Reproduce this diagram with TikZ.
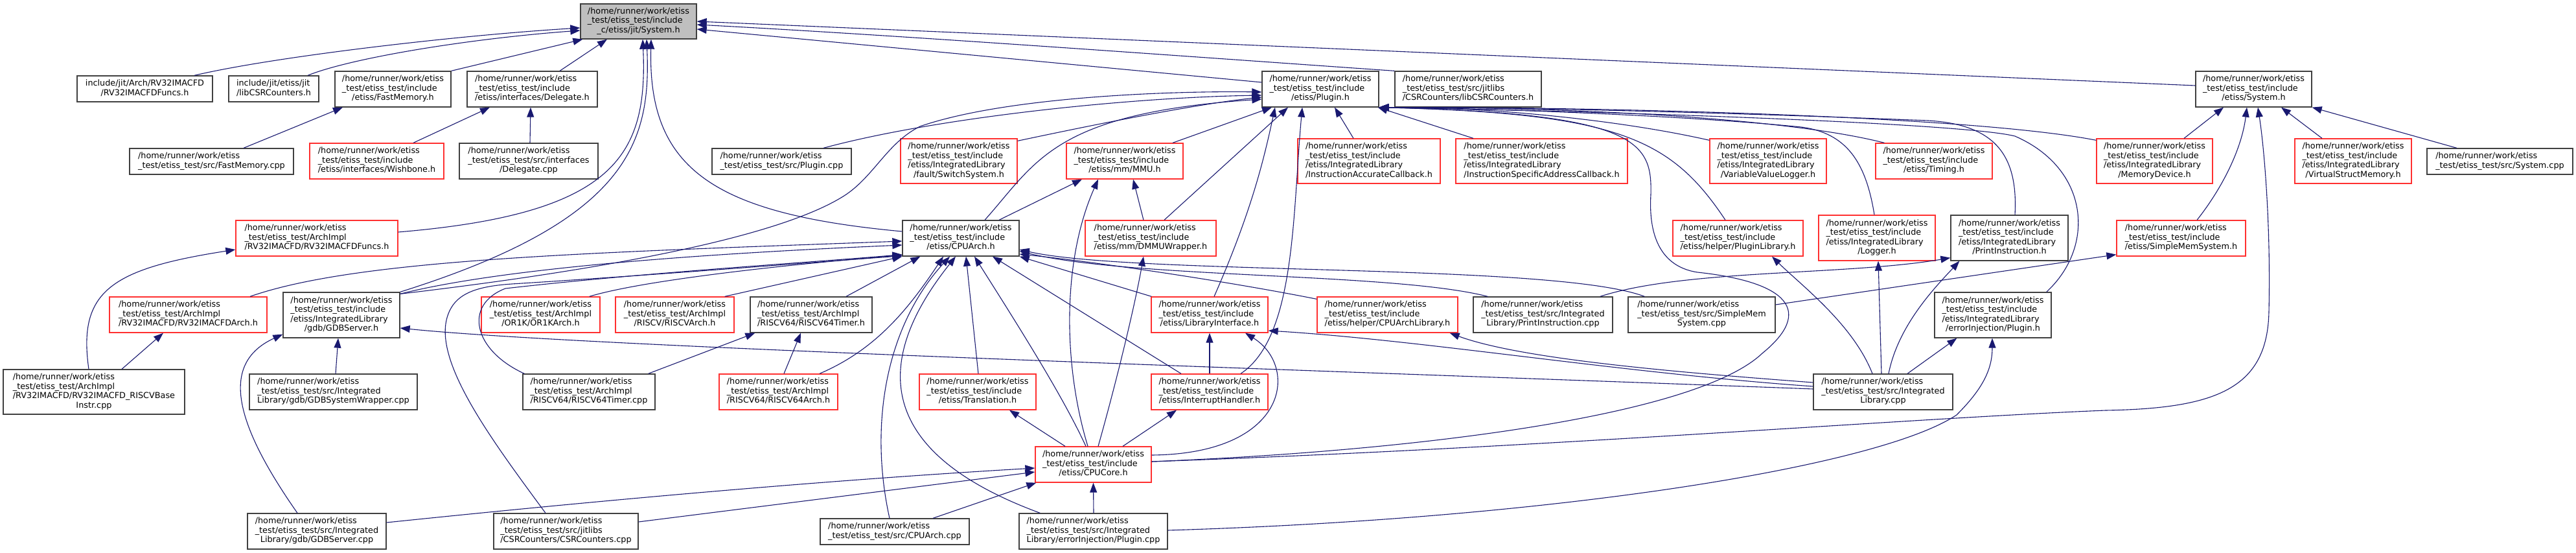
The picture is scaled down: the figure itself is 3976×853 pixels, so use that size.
\documentclass[tikz,border=0pt]{standalone}
\usepackage{fontspec}
\setmainfont{DejaVu Sans}
\usetikzlibrary{arrows.meta,calc}
\definecolor{edgeblue}{HTML}{191970}
\definecolor{rootgray}{HTML}{BFBFBF}
\definecolor{nodeborder}{HTML}{404040}
\definecolor{truncred}{HTML}{FF3030}
\newcommand\lbl[2]{\begin{tabular}{@{}l@{}}#1\\\multicolumn{1}{@{}c@{}}{#2}\end{tabular}}
\newcommand\pH{/home/runner/work/etiss\\\_test/etiss\_test/include}
\newcommand\pA{/home/runner/work/etiss\\\_test/etiss\_test/ArchImpl}
\newcommand\pS{/home/runner/work/etiss\\\_test/etiss\_test/src/Integrated}
\newcommand\pIL{\pH\\/etiss/IntegratedLibrary}
\newcommand\mknode[7]{\node[#6, minimum width={(#3-#2)*1pt}, minimum height={(#5-#4)*1pt}] (#1) at ({(#2+#3)/2},{(#4+#5)/2}) {#7};}
\tikzset{
  nbox/.style={draw=nodeborder, line width=1.3pt, fill=white, inner sep=0pt, font=\fontsize{12.8pt}{14.5pt}\selectfont},
  rbox/.style={nbox, draw=truncred},
  gbox/.style={nbox, fill=rootgray},
  edge/.style={draw=edgeblue, line width=1.1pt, -{Triangle[length=15pt,width=11pt]}}
}
\begin{document}
\begin{tikzpicture}[x=1pt,y=-1pt]
\fill[white] (0,0) rectangle (3976,853);
\useasboundingbox (0,0) rectangle (3976,853);
% nodes
\mknode{root}{896}{1075}{6}{60}{gbox}{\lbl{\pH}{\_c/etiss/jit/System.h}}
\mknode{jitArch}{119}{328}{117}{157}{nbox}{\lbl{include/jit/Arch/RV32IMACFD}{/RV32IMACFDFuncs.h}}
\mknode{jitCSR}{353}{492}{117}{157}{nbox}{\lbl{include/jit/etiss/jit}{/libCSRCounters.h}}
\mknode{fastmemh}{517}{696}{110}{165}{nbox}{\lbl{\pH}{/etiss/FastMemory.h}}
\mknode{delegateh}{721}{922}{110}{165}{nbox}{\lbl{\pH}{/etiss/interfaces/Delegate.h}}
\mknode{pluginh}{1948}{2128}{110}{165}{nbox}{\lbl{\pH}{/etiss/Plugin.h}}
\mknode{srccsrh}{2153}{2379}{110}{165}{nbox}{\lbl{/home/runner/work/etiss\\\_test/etiss\_test/src/jitlibs}{/CSRCounters/libCSRCounters.h}}
\mknode{systemh}{3389}{3568}{110}{165}{nbox}{\lbl{\pH}{/etiss/System.h}}
\mknode{fastmemcpp}{200}{453}{229}{269}{nbox}{\lbl{/home/runner/work/etiss}{\_test/etiss\_test/src/FastMemory.cpp}}
\mknode{wishbone}{478}{685}{221}{276}{rbox}{\lbl{\pH}{/etiss/interfaces/Wishbone.h}}
\mknode{delegatecpp}{709}{923}{221}{276}{nbox}{\lbl{/home/runner/work/etiss\\\_test/etiss\_test/src/interfaces}{/Delegate.cpp}}
\mknode{plugincpp}{1099}{1314}{229}{269}{nbox}{\lbl{/home/runner/work/etiss}{\_test/etiss\_test/src/Plugin.cpp}}
\mknode{switchsys}{1390}{1570}{214}{283}{rbox}{\lbl{\pIL}{/fault/SwitchSystem.h}}
\mknode{mmuh}{1646}{1826}{221}{276}{rbox}{\lbl{\pH}{/etiss/mm/MMU.h}}
\mknode{iac}{2003}{2223}{214}{283}{rbox}{\lbl{\pIL}{/InstructionAccurateCallback.h}}
\mknode{isac}{2247}{2512}{214}{283}{rbox}{\lbl{\pIL}{/InstructionSpecificAddressCallback.h}}
\mknode{vvl}{2639}{2819}{214}{283}{rbox}{\lbl{\pIL}{/VariableValueLogger.h}}
\mknode{timing}{2895}{3075}{221}{276}{rbox}{\lbl{\pH}{/etiss/Timing.h}}
\mknode{memdev}{3236}{3415}{214}{283}{rbox}{\lbl{\pIL}{/MemoryDevice.h}}
\mknode{vsm}{3542}{3722}{214}{283}{rbox}{\lbl{\pIL}{/VirtualStructMemory.h}}
\mknode{systemcpp}{3746}{3971}{229}{269}{nbox}{\lbl{/home/runner/work/etiss}{\_test/etiss\_test/src/System.cpp}}
\mknode{archfuncs}{364}{614}{340}{395}{rbox}{\lbl{\pA}{/RV32IMACFD/RV32IMACFDFuncs.h}}
\mknode{cpuarchh}{1393}{1573}{340}{395}{nbox}{\lbl{\pH}{/etiss/CPUArch.h}}
\mknode{dmmu}{1675}{1877}{340}{395}{rbox}{\lbl{\pH}{/etiss/mm/DMMUWrapper.h}}
\mknode{pluginlib}{2582}{2783}{340}{395}{rbox}{\lbl{\pH}{/etiss/helper/PluginLibrary.h}}
\mknode{logger}{2807}{2987}{332}{402}{rbox}{\lbl{\pIL}{/Logger.h}}
\mknode{printinsth}{3011}{3192}{332}{402}{nbox}{\lbl{\pIL}{/PrintInstruction.h}}
\mknode{simplememh}{3267}{3466}{340}{395}{rbox}{\lbl{\pH}{/etiss/SimpleMemSystem.h}}
\mknode{rv32arch}{169}{412}{458}{513}{rbox}{\lbl{\pA}{/RV32IMACFD/RV32IMACFDArch.h}}
\mknode{gdbserverh}{437}{617}{451}{521}{nbox}{\lbl{\pIL}{/gdb/GDBServer.h}}
\mknode{or1k}{743}{926}{458}{513}{rbox}{\lbl{\pA}{/OR1K/OR1KArch.h}}
\mknode{riscv}{950}{1133}{458}{513}{rbox}{\lbl{\pA}{/RISCV/RISCVArch.h}}
\mknode{rv64timerh}{1158}{1346}{458}{513}{nbox}{\lbl{\pA}{/RISCV64/RISCV64Timer.h}}
\mknode{libif}{1777}{1957}{458}{513}{rbox}{\lbl{\pH}{/etiss/LibraryInterface.h}}
\mknode{cpuarchlib}{2033}{2250}{458}{513}{rbox}{\lbl{\pH}{/etiss/helper/CPUArchLibrary.h}}
\mknode{printinstcpp}{2274}{2489}{458}{513}{nbox}{\lbl{\pS}{Library/PrintInstruction.cpp}}
\mknode{simplememcpp}{2513}{2740}{458}{513}{nbox}{\lbl{/home/runner/work/etiss\\\_test/etiss\_test/src/SimpleMem}{System.cpp}}
\mknode{einjh}{2986}{3166}{451}{521}{nbox}{\lbl{\pIL}{/errorInjection/Plugin.h}}
\mknode{baseinstr}{5}{285}{570}{639}{nbox}{\lbl{\pA\\/RV32IMACFD/RV32IMACFD\_RISCVBase}{Instr.cpp}}
\mknode{gdbwrap}{385}{644}{577}{632}{nbox}{\lbl{\pS}{Library/gdb/GDBSystemWrapper.cpp}}
\mknode{rv64timercpp}{807}{1011}{577}{632}{nbox}{\lbl{\pA}{/RISCV64/RISCV64Timer.cpp}}
\mknode{rv64arch}{1110}{1293}{577}{632}{rbox}{\lbl{\pA}{/RISCV64/RISCV64Arch.h}}
\mknode{translation}{1419}{1599}{577}{632}{rbox}{\lbl{\pH}{/etiss/Translation.h}}
\mknode{interrupt}{1777}{1957}{577}{632}{rbox}{\lbl{\pH}{/etiss/InterruptHandler.h}}
\mknode{intlibcpp}{2799}{3014}{577}{632}{nbox}{\lbl{\pS}{Library.cpp}}
\mknode{cpucore}{1598}{1777}{689}{744}{rbox}{\lbl{\pH}{/etiss/CPUCore.h}}
\mknode{gdbservercpp}{382}{596}{792}{847}{nbox}{\lbl{\pS}{Library/gdb/GDBServer.cpp}}
\mknode{csrcpp}{762}{985}{792}{847}{nbox}{\lbl{/home/runner/work/etiss\\\_test/etiss\_test/src/jitlibs}{/CSRCounters/CSRCounters.cpp}}
\mknode{cpuarchcpp}{1266}{1496}{800}{840}{nbox}{\lbl{/home/runner/work/etiss}{\_test/etiss\_test/src/CPUArch.cpp}}
\mknode{einjcpp}{1573}{1802}{792}{847}{nbox}{\lbl{\pS}{Library/errorInjection/Plugin.cpp}}
% edges into root
\draw[edge] ($(jitArch.north)+(76.5,0)$) .. controls (420,88) and (700,55) .. ($(root.west)+(0,10)$);
\draw[edge] ($(jitCSR.north)+(52.5,0)$) .. controls (540,90) and (720,60) .. ($(root.west)+(0,14)$);
\draw[edge] (fastmemh.north east) -- ($(root.south west)+(4,0)$);
\draw[edge] ($(delegateh.north)+(42.5,0)$) -- ($(root.south)+(-48.5,0)$);
\draw[edge] ($(pluginh.west)+(0,-10.5)$) -- ($(root.east)+(0,12)$);
\draw[edge] (srccsrh.north west) .. controls (1900,92) and (1400,55) .. ($(root.east)+(0,5)$);
\draw[edge] ($(systemh.west)+(0,-5.5)$) -- (root.east);
\draw[edge] ($(archfuncs.east)+(0,-9.5)$) .. controls (950,330) and (1000,240) .. ($(root.south)+(6.5,0)$);
\draw[edge] (gdbserverh.north east) .. controls (970,340) and (1005,220) .. ($(root.south)+(12.5,0)$);
\draw[edge] ($(cpuarchh.west)+(0,-10.5)$) .. controls (1100,330) and (1000,260) .. ($(root.south)+(19.5,0)$);
% small top-left groups
\draw[edge] ($(wishbone.north)+(56.5,0)$) -- ($(delegateh.south)+(-65.5,0)$);
\draw[edge] ($(delegatecpp.north)+(2,0)$) -- ($(delegateh.south)+(-2.5,0)$);
\draw[edge] ($(fastmemcpp.north)+(49.5,0)$) -- ($(fastmemh.south)+(-77.5,0)$);
% into Plugin.h
\draw[edge] ($(plugincpp.north)+(64.5,0)$) .. controls (1450,180) and (1750,150) .. ($(pluginh.west)+(0,9.5)$);
\draw[edge] ($(gdbserverh.north east)+(0,3)$) .. controls (900,420) and (1200,370) .. (1306,300) .. controls (1350,270) and (1370,220) .. (1420,195) .. controls (1550,150) and (1800,140) .. ($(pluginh.west)+(0,4.5)$);
\draw[edge] ($(switchsys.north east)+(0,4)$) .. controls (1700,190) and (1850,160) .. ($(pluginh.west)+(0,12.5)$);
\draw[edge] ($(cpuarchh.north)+(37,0)$) .. controls (1600,250) and (1625,175) .. ($(pluginh.west)+(0,15.5)$);
\draw[edge] ($(mmuh.north)+(74,0)$) -- ($(pluginh.south)+(-75,0)$);
\draw[edge] ($(dmmu.north)+(21,0)$) -- ($(pluginh.south)+(-50,0)$);
\draw[edge] ($(iac.north)+(-24,0)$) -- ($(pluginh.south)+(22,0)$);
\draw[edge] ($(isac.north)+(-105.5,0)$) -- ($(pluginh.south east)+(-2,0)$);
\draw[edge] ($(vvl.north west)+(0,3)$) .. controls (2500,185) and (2300,165) .. (pluginh.south east);
\draw[edge] ($(timing.north west)+(14,0)$) .. controls (2750,180) and (2400,165) .. (pluginh.south east);
\draw[edge] ($(memdev.north west)+(0,3)$) .. controls (3050,180) and (2500,165) .. (pluginh.south east);
\draw[edge] ($(printinsth.north)+(8.5,0)$) .. controls (3115,240) and (3080,192) .. (2976,186) .. controls (2700,175) and (2350,165) .. (pluginh.south east);
\draw[edge] ($(einjh.north east)+(-8,0)$) .. controls (3235,380) and (3225,260) .. (3110,210) .. controls (3030,190) and (2500,172) .. (pluginh.south east);
\draw[edge] ($(pluginlib.north)+(-19.5,0)$) .. controls (2580,215) and (2500,175) .. (pluginh.south east);
\draw[edge] ($(logger.north)+(-4,0)$) .. controls (2880,250) and (2850,205) .. (2780,196) .. controls (2600,178) and (2300,167) .. (pluginh.south east);
\draw[edge] ($(cpucore.east)+(0,-4.5)$) .. controls (2200,695) and (2620,640) .. (2720,545) .. controls (2800,480) and (2760,435) .. (2620,420) .. controls (2555,410) and (2545,350) .. (2548,300) .. controls (2550,220) and (2530,175) .. (pluginh.south east);
\draw[edge] ($(interrupt.north)+(48,0)$) .. controls (2000,520) and (1995,330) .. ($(pluginh.south)+(-28,0)$);
\draw[edge] ($(libif.north)+(7,0)$) .. controls (1930,330) and (1950,250) .. ($(pluginh.south)+(-70,0)$);
% MMU / DMMU
\draw[edge] ($(cpuarchh.north)+(59,0)$) -- ($(mmuh.south)+(-66,0)$);
\draw[edge] ($(cpucore.north)+(-8.5,0)$) .. controls (1640,560) and (1640,400) .. ($(mmuh.south)+(-41,0)$);
\draw[edge] ($(dmmu.north)+(-11,0)$) -- ($(mmuh.south)+(13,0)$);
% System.h
\draw[edge] ($(cpucore.east)+(0,-4.5)$) .. controls (2400,690) and (2950,645) .. (3250,633) .. controls (3420,630) and (3500,600) .. (3502,480) .. controls (3505,350) and (3495,230) .. ($(systemh.south)+(6.5,0)$);
\draw[edge] ($(simplememh.north)+(24.5,0)$) .. controls (3430,290) and (3460,230) .. ($(systemh.south)+(-10.5,0)$);
\draw[edge] ($(memdev.north)+(45.5,0)$) -- ($(systemh.south)+(-46.5,0)$);
\draw[edge] ($(vsm.north)+(-48,0)$) -- ($(systemh.south)+(42.5,0)$);
\draw[edge] ($(systemcpp.north)+(-66.5,0)$) -- (systemh.south east);
% CPUCore.h out
\draw[edge] ($(cpucore.east)+(0,-14.5)$) .. controls (1990,700) and (2005,565) .. ($(libif.south)+(55,0)$);
\draw[edge] ($(cpucore.north)+(-43.5,0)$) -- ($(translation.south)+(49,0)$);
\draw[edge] ($(cpucore.north)+(-11.5,0)$) .. controls (1640,610) and (1570,500) .. ($(cpuarchh.south)+(21,0)$);
\draw[edge] ($(cpucore.north)+(7.5,0)$) .. controls (1720,600) and (1750,480) .. ($(dmmu.south)+(-11,0)$);
\draw[edge] ($(cpucore.north)+(45.5,0)$) -- ($(interrupt.south)+(-51,0)$);
% Translation / InterruptHandler / LibraryInterface
\draw[edge] ($(translation.north)+(1,0)$) -- ($(cpuarchh.south)+(8,0)$);
\draw[edge] ($(interrupt.north)+(-44,0)$) -- ($(cpuarchh.south)+(49,0)$);
\draw[edge] (interrupt.north) -- (libif.south);
\draw[edge] ($(libif.north west)+(1,0)$) -- (cpuarchh.south east);
% IntegratedLibrary.cpp
\draw[edge] ($(intlibcpp.west)+(0,-8.5)$) .. controls (2500,575) and (2200,525) .. ($(libif.east)+(0,24.5)$);
\draw[edge] ($(intlibcpp.west)+(0,-14.5)$) .. controls (2600,575) and (2350,555) .. ($(cpuarchlib.south east)+(-13,0)$);
\draw[edge] ($(intlibcpp.west)+(0,-4.5)$) .. controls (2000,570) and (900,535) .. ($(gdbserverh.east)+(0,20)$);
\draw[edge] ($(intlibcpp.north)+(-16.5,0)$) .. controls (2860,500) and (2780,440) .. ($(pluginlib.south)+(52.5,0)$);
\draw[edge] ($(intlibcpp.north)+(-2.5,0)$) -- ($(logger.south)+(2,0)$);
\draw[edge] ($(intlibcpp.north)+(8.5,0)$) .. controls (2930,500) and (2990,440) .. ($(printinsth.south west)+(14,0)$);
\draw[edge] ($(intlibcpp.north)+(37.5,0)$) -- ($(einjh.south west)+(35,0)$);
% SimpleMem / PrintInstruction / CPUArchLibrary
\draw[edge] ($(simplememcpp.east)+(0,-15.5)$) -- ($(simplememh.south west)+(0,-3)$);
\draw[edge] ($(printinstcpp.north east)+(-20,0)$) .. controls (2600,415) and (2850,425) .. ($(printinsth.south west)+(0,-5)$);
\draw[edge] ($(printinstcpp.north west)+(23,0)$) .. controls (2150,420) and (1750,430) .. ($(cpuarchh.east)+(0,20)$);
\draw[edge] ($(simplememcpp.north west)+(26,0)$) .. controls (2400,405) and (1750,425) .. ($(cpuarchh.east)+(0,17.5)$);
\draw[edge] ($(cpuarchlib.north west)+(0,4)$) .. controls (1900,435) and (1700,405) .. ($(cpuarchh.east)+(0,24.5)$);
% bottom row
\draw[edge] ($(einjcpp.east)+(0,-1.5)$) .. controls (2400,800) and (2900,720) .. (3020,640) .. controls (3060,600) and (3075,570) .. ($(einjh.south)+(-1,0)$);
\draw[edge] ($(einjcpp.north)+(0.5,0)$) -- (cpucore.south);
\draw[edge] ($(einjcpp.north west)+(33,0)$) .. controls (1330,690) and (1360,540) .. ($(cpuarchh.south)+(-8,0)$);
\draw[edge] ($(cpuarchcpp.north)+(59,0)$) -- ($(cpucore.south west)+(2,0)$);
\draw[edge] ($(cpuarchcpp.north)+(-8,0)$) .. controls (1340,650) and (1370,500) .. ($(cpuarchh.south)+(-17,0)$);
\draw[edge] ($(gdbservercpp.east)+(0,-13.5)$) .. controls (800,785) and (1200,745) .. ($(cpucore.west)+(0,5.5)$);
\draw[edge] ($(csrcpp.east)+(0,-14.5)$) -- ($(cpucore.west)+(0,11.5)$);
\draw[edge] ($(gdbservercpp.north)+(-30,0)$) .. controls (360,650) and (340,560) .. ($(gdbserverh.south west)+(0,-6)$);
\draw[edge] ($(csrcpp.north)+(-31.5,0)$) .. controls (760,680) and (670,560) .. (690,490) .. controls (700,455) and (730,442) .. (790,438) .. controls (1000,425) and (1250,405) .. ($(cpuarchh.south west)+(0,-1)$);
% arch files
\draw[edge] ($(rv64timercpp.north west)+(3,0)$) .. controls (730,540) and (715,470) .. (780,445) .. controls (1000,420) and (1250,405) .. ($(cpuarchh.south west)+(0,-3)$);
\draw[edge] ($(rv64timercpp.north east)+(-11,0)$) -- ($(rv64timerh.south west)+(8,0)$);
\draw[edge] ($(rv64arch.north)+(8.5,0)$) -- ($(rv64timerh.south)+(-16,0)$);
\draw[edge] ($(rv64arch.north)+(63.5,0)$) .. controls (1350,540) and (1400,480) .. ($(cpuarchh.south)+(-27,0)$);
\draw[edge] ($(rv64timerh.north)+(54,0)$) -- ($(cpuarchh.south west)+(28,0)$);
\draw[edge] ($(riscv.north east)+(-15,0)$) -- (cpuarchh.south west);
\draw[edge] ($(or1k.north east)+(-17,0)$) .. controls (1000,430) and (1250,405) .. ($(cpuarchh.south west)+(0,-2)$);
\draw[edge] ($(rv32arch.north)+(95.5,0)$) .. controls (550,400) and (900,390) .. ($(cpuarchh.west)+(0,4.5)$);
\draw[edge] ($(gdbserverh.north east)+(0,3)$) .. controls (750,420) and (1000,395) .. ($(cpuarchh.west)+(0,10.5)$);
\draw[edge] ($(baseinstr.north)+(-8,0)$) .. controls (120,450) and (170,415) .. ($(archfuncs.west)+(0,17.5)$);
\draw[edge] ($(baseinstr.north)+(43,0)$) -- ($(rv32arch.south)+(-38.5,0)$);
\draw[edge] ($(gdbwrap.north)+(3.5,0)$) -- ($(gdbserverh.south)+(-5,0)$);
\end{tikzpicture}
\end{document}
